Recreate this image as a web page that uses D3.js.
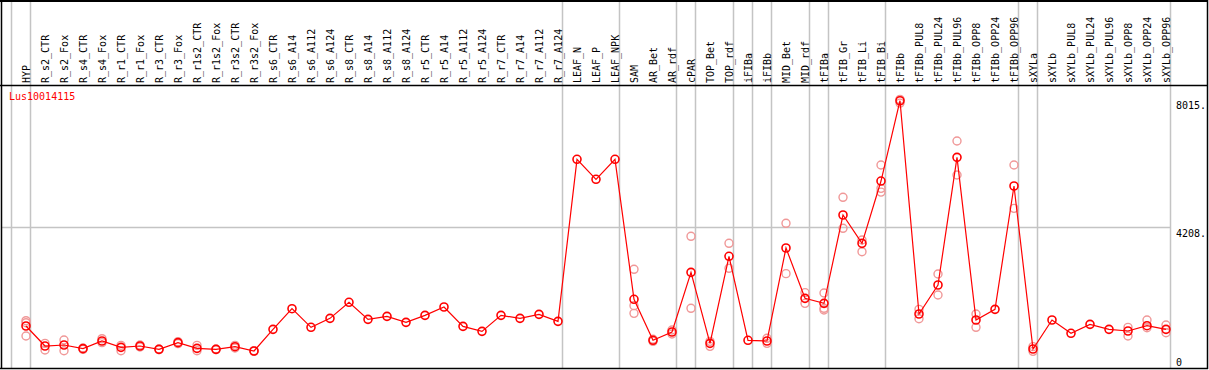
<!DOCTYPE html>
<html>
<head>
<meta charset="utf-8">
<style>
    body { margin: 0; background: #fff; }
    svg { display: block; font-family: 'DejaVu Sans Mono', 'Liberation Mono', monospace; }
    .col-label { font-size: 10px; fill: #000; }
    .tick-label { font-size: 10px; fill: #000; }
</style>
</head>
<body>
<svg width="1209" height="370"></svg>
<script src="https://d3js.org/d3.v7.min.js"></script>
<script>
    // sample names along the top
    let samples = ["HYP", "R_s2_CTR", "R_s2_Fox", "R_s4_CTR", "R_s4_Fox", "R_r1_CTR", "R_r1_Fox",
        "R_r3_CTR", "R_r3_Fox", "R_r1s2_CTR", "R_r1s2_Fox", "R_r3s2_CTR", "R_r3s2_Fox",
        "R_s6_CTR", "R_s6_A14", "R_s6_A112", "R_s6_A124", "R_s8_CTR", "R_s8_A14", "R_s8_A112", "R_s8_A124",
        "R_r5_CTR", "R_r5_A14", "R_r5_A112", "R_r5_A124", "R_r7_CTR", "R_r7_A14", "R_r7_A112", "R_r7_A124",
        "LEAF_N", "LEAF_P", "LEAF_NPK", "SAM", "AR_Bet", "AR_rdf", "cPAR", "TOP_Bet", "TOP_rdf",
        "iFIBa", "iFIBb", "MID_Bet", "MID_rdf", "tFIBa", "tFIB_Gr", "tFIB_Li", "tFIB_Bi",
        "tFIBb", "tFIBb_PUL8", "tFIBb_PUL24", "tFIBb_PUL96", "tFIBb_OPP8", "tFIBb_OPP24", "tFIBb_OPP96",
        "sXYLa", "sXYLb", "sXYLb_PUL8", "sXYLb_PUL24", "sXYLb_PUL96", "sXYLb_OPP8", "sXYLb_OPP24", "sXYLb_OPP96"]

    // mean expression per sample
    let means = [1253, 656, 686, 577, 806, 617, 656, 557, 756, 587, 557, 636, 507,
        1154, 1770, 1214, 1482, 1960, 1452, 1541, 1363,
        1571, 1820, 1243, 1094, 1571, 1482, 1601, 1392,
        6228, 5631, 6228, 2050, 826, 1074, 2855, 736, 3333,
        826, 806, 3581, 2079, 1930, 4566, 3720, 5580,
        7976, 1611, 2477, 6287, 1432, 1750, 5431,
        567, 1432, 1035, 1303, 1154, 1104, 1263, 1154]

    // replicate values (only the ones visible behind the mean)
    let replicates = [[1412, 1352, 955], [736, 537], [836, 517], [597, 557], [875, 756], [676, 517], [686, 627],
        [567, 547], [786, 726], [676, 517], [567, 547], [676, 597], [517, 497],
        [], [], [], [], [], [], [], [],
        [], [], [], [], [], [], [], [],
        [], [], [], [2945, 1860, 1631], [856, 796], [1014, 1134], [3930, 1781], [796, 646], [3721, 2975],
        [], [886, 736], [4318, 2815], [2248, 1930], [2238, 1781, 1730], [5094, 4169], [3820, 3471], [6058, 5362, 5250],
        [8015, 7905], [1750, 1472], [2805, 2178], [6774, 5759], [1611, 1214], [], [6058, 4765],
        [637, 497], [], [], [], [], [1213, 955], [1432, 1203], [1283, 1054]]

    // first sample of each group (gray separators)
    let groupStarts = ["HYP", "R_s2_CTR", "LEAF_N", "SAM", "cPAR", "TOP_Bet", "iFIBa", "iFIBb",
        "MID_Bet", "tFIBa", "tFIB_Gr", "tFIBb", "sXYLa", "sXYLb"]

    let maxValue = 8015
    let tickValues = [0, 4208, 8015]
    let tickLabels = ["0", "4208.", "8015."]
    let geneName = "Lus10014115"

    let width = 1209
    let height = 370
    let headerBottom = 86
    let plotBottom = 368

    let svg = d3.select("svg")

    let x = d3.scalePoint()
        .domain(samples)
        .range([26, 1166])

    let y = d3.scaleLinear()
        .domain([0, maxValue * 1.05])
        .range([plotBottom, headerBottom])

    let rightEdge = x(samples[samples.length - 1]) + 4.5

    // gray separators
    let sepX = groupStarts.map(s => x(s) - 14.5).concat([rightEdge])
    svg.append("g")
        .selectAll("line")
        .data(sepX)
        .join("line")
        .attr("x1", d => d)
        .attr("x2", d => d)
        .attr("y1", 0)
        .attr("y2", plotBottom)
        .style("stroke", "#c4c4c4")
        .style("stroke-width", 1.5)

    // mid gridline
    svg.append("line")
        .attr("x1", 1)
        .attr("x2", rightEdge)
        .attr("y1", Math.round(y(tickValues[1])) + 0.5)
        .attr("y2", Math.round(y(tickValues[1])) + 0.5)
        .style("stroke", "#c4c4c4")
        .style("stroke-width", 1.5)

    // frame
    let frame = svg.append("g").style("stroke", "#000").style("fill", "none")
    frame.append("line").attr("x1", 0).attr("x2", width - 1).attr("y1", 1).attr("y2", 1).style("stroke-width", 2)
    frame.append("line").attr("x1", 0).attr("x2", width - 1).attr("y1", headerBottom - 0.5).attr("y2", headerBottom - 0.5).style("stroke-width", 1.5)
    frame.append("line").attr("x1", 0).attr("x2", width - 1).attr("y1", plotBottom + 0.5).attr("y2", plotBottom + 0.5).style("stroke-width", 1.5)
    frame.append("line").attr("x1", 1.5).attr("x2", 1.5).attr("y1", 0).attr("y2", plotBottom + 1).style("stroke-width", 1.5)
    frame.append("line").attr("x1", width - 1.5).attr("x2", width - 1.5).attr("y1", 0).attr("y2", plotBottom + 1).style("stroke-width", 1.5)

    // rotated sample labels
    svg.append("g")
        .selectAll("text")
        .data(samples)
        .join("text")
        .attr("class", "col-label")
        .attr("transform", d => `translate(${x(d) + 4},83) rotate(-90)`)
        .text(d => d)

    // y tick labels
    svg.append("g")
        .selectAll("text")
        .data(tickValues)
        .join("text")
        .attr("class", "tick-label")
        .attr("x", 1176)
        .attr("y", d => Math.min(y(d) + 10, plotBottom - 2))
        .text((d, i) => tickLabels[i])

    // gene label
    svg.append("text")
        .attr("x", 9)
        .attr("y", 100)
        .style("font-size", "10px")
        .style("fill", "#ff0000")
        .text(geneName)

    // replicate circles
    let repPoints = []
    replicates.forEach((reps, i) => {
        reps.forEach(v => repPoints.push({ sample: samples[i], value: v }))
    })

    svg.append("g")
        .selectAll("circle")
        .data(repPoints)
        .join("circle")
        .attr("cx", d => x(d.sample))
        .attr("cy", d => y(d.value))
        .attr("r", 4)
        .style("fill", "none")
        .style("stroke", "#f09898")
        .style("stroke-width", 1.4)

    // mean line
    let line = d3.line()
        .x((d, i) => x(samples[i]))
        .y(d => y(d))

    svg.append("path")
        .attr("d", line(means))
        .style("fill", "none")
        .style("stroke", "#ff0000")
        .style("stroke-width", 1.2)

    svg.append("g")
        .selectAll("circle")
        .data(means)
        .join("circle")
        .attr("cx", (d, i) => x(samples[i]))
        .attr("cy", d => y(d))
        .attr("r", 4)
        .style("fill", "none")
        .style("stroke", "#ff0000")
        .style("stroke-width", 1.6)
</script>
</body>
</html>
